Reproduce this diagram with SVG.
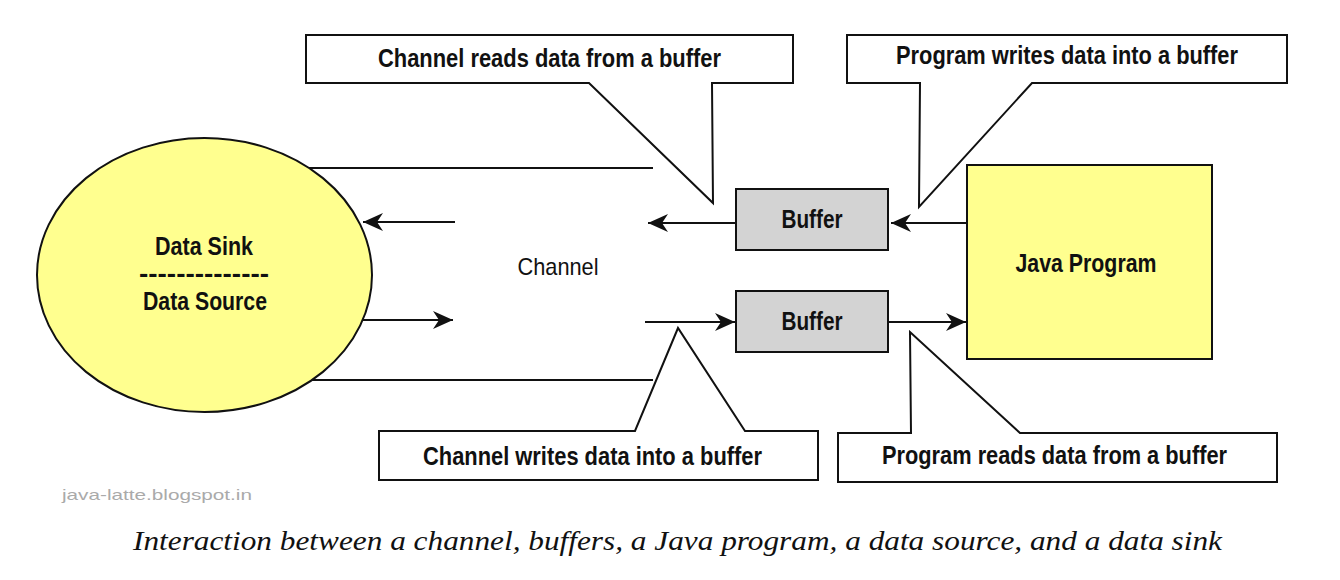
<svg xmlns="http://www.w3.org/2000/svg" width="1340" height="580" viewBox="0 0 1340 580">
  <style>
    .lbl { font-family: "Liberation Sans", Arial, sans-serif; font-weight: bold; font-size: 25px; fill: #111; }
    .reg { font-family: "Liberation Sans", Arial, sans-serif; font-size: 24px; fill: #111; }
    .callout { fill: #fff; stroke: #111; stroke-width: 2; stroke-linejoin: miter; }
    .line { stroke: #111; stroke-width: 2; fill: none; }
    .yel { fill: #ffff8f; stroke: #111; stroke-width: 2; }
    .buf { fill: #d3d3d3; stroke: #111; stroke-width: 2; }
  </style>
  <defs>
    <marker id="ah" viewBox="0 0 20 20" refX="20" refY="10" markerWidth="20" markerHeight="20" markerUnits="userSpaceOnUse" orient="auto">
      <path d="M0,1 L20,10 L0,19 L6,10 Z" fill="#111"/>
    </marker>
  </defs>
  <rect width="1340" height="580" fill="#fff"/>

  <g id="connectors">
    <line class="line" x1="309" y1="168" x2="653" y2="168"/>
    <line class="line" x1="309" y1="380" x2="653" y2="380"/>
    <line class="line" x1="455" y1="222" x2="363" y2="222" marker-end="url(#ah)"/>
    <line class="line" x1="361" y1="320" x2="453" y2="320" marker-end="url(#ah)"/>
    <line class="line" x1="736" y1="223" x2="648" y2="223" marker-end="url(#ah)"/>
    <line class="line" x1="967" y1="223" x2="891" y2="223" marker-end="url(#ah)"/>
    <line class="line" x1="645" y1="322" x2="735" y2="322" marker-end="url(#ah)"/>
    <line class="line" x1="888" y1="322" x2="966" y2="322" marker-end="url(#ah)"/>
  </g>

  <g id="data-node">
    <ellipse class="yel" cx="204.5" cy="275" rx="167.5" ry="137"/>
    <text class="lbl" x="204" y="255" text-anchor="middle" textLength="98" lengthAdjust="spacingAndGlyphs">Data Sink</text>
    <text class="lbl" x="204" y="282" text-anchor="middle" textLength="130" lengthAdjust="spacingAndGlyphs">--------------</text>
    <text class="lbl" x="205" y="310" text-anchor="middle" textLength="124" lengthAdjust="spacingAndGlyphs">Data Source</text>
  </g>

  <g id="channel">
    <text class="reg" x="558" y="275" text-anchor="middle" textLength="81" lengthAdjust="spacingAndGlyphs">Channel</text>
  </g>

  <g id="buffer-top">
    <rect class="buf" x="736" y="189" width="152" height="61"/>
    <text class="lbl" x="812" y="228" text-anchor="middle" textLength="61" lengthAdjust="spacingAndGlyphs">Buffer</text>
  </g>

  <g id="buffer-bottom">
    <rect class="buf" x="736" y="291" width="152" height="61"/>
    <text class="lbl" x="812" y="330" text-anchor="middle" textLength="61" lengthAdjust="spacingAndGlyphs">Buffer</text>
  </g>

  <g id="java-program">
    <rect class="yel" x="967" y="165" width="245" height="194"/>
    <text class="lbl" x="1086" y="272" text-anchor="middle" textLength="141" lengthAdjust="spacingAndGlyphs">Java Program</text>
  </g>

  <g id="callout-channel-reads">
    <path class="callout" d="M306,35 H793 V83 H712 L713,203 L589,83 H306 Z"/>
    <text class="lbl" x="549.5" y="67" text-anchor="middle" textLength="343" lengthAdjust="spacingAndGlyphs">Channel reads data from a buffer</text>
  </g>

  <g id="callout-program-writes">
    <path class="callout" d="M847,35 H1287 V83 H1032 L919,207 L920,83 H847 Z"/>
    <text class="lbl" x="1067" y="64" text-anchor="middle" textLength="342" lengthAdjust="spacingAndGlyphs">Program writes data into a buffer</text>
  </g>

  <g id="callout-channel-writes">
    <path class="callout" d="M379,431 H635 L678,328 L745,431 H818 V480 H379 Z"/>
    <text class="lbl" x="592.5" y="465" text-anchor="middle" textLength="339" lengthAdjust="spacingAndGlyphs">Channel writes data into a buffer</text>
  </g>

  <g id="callout-program-reads">
    <path class="callout" d="M838,433 H911 L910,332 L1020,433 H1277 V482 H838 Z"/>
    <text class="lbl" x="1054.5" y="464" text-anchor="middle" textLength="345" lengthAdjust="spacingAndGlyphs">Program reads data from a buffer</text>
  </g>

  <text x="62" y="500" font-family="'Liberation Sans', Arial, sans-serif" font-size="15" fill="#aaa" textLength="190" lengthAdjust="spacingAndGlyphs">java-latte.blogspot.in</text>
  <text x="133" y="550" font-family="'Liberation Serif', 'Times New Roman', serif" font-style="italic" font-size="28" fill="#111" textLength="1089" lengthAdjust="spacingAndGlyphs">Interaction between a channel, buffers, a Java program, a data source, and a data sink</text>
</svg>
